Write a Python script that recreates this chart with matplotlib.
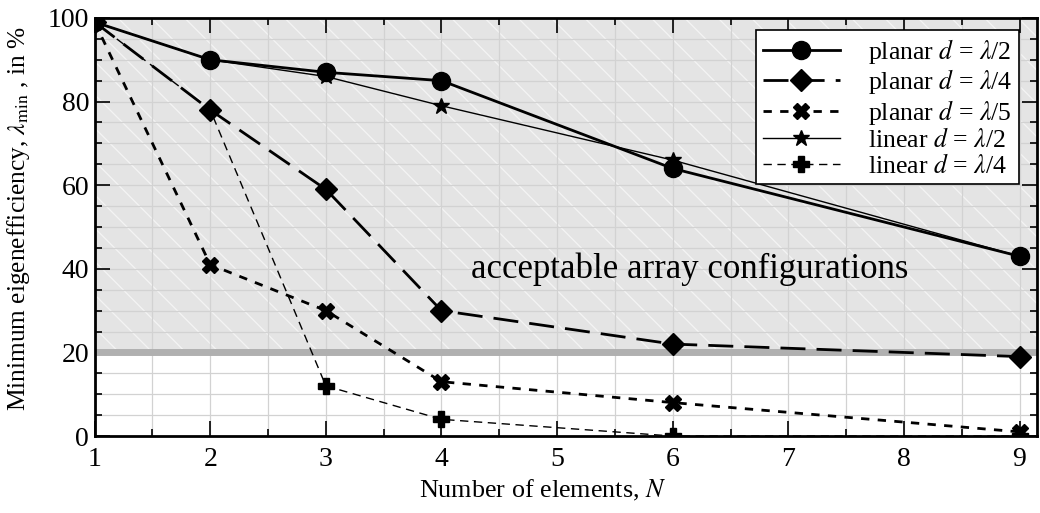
import matplotlib.pyplot as plt
import numpy as np

plt.rcParams['font.family'] = ['Liberation Serif', 'DejaVu Serif']
plt.rcParams['mathtext.fontset'] = 'stix'
plt.rcParams['hatch.linewidth'] = 0.9

# data
n_elem = [1, 2, 3, 4, 6, 9]
planar_half = [99, 90, 87, 85, 64, 43]
planar_quarter = [99, 78, 59, 30, 22, 19]
planar_fifth = [99, 41, 30, 13, 8, 1]
linear_half = [99, 90, 86, 79, 66, 43]
linear_quarter = [99, 78, 12, 4, 0, 0]
x_ticks = [1, 2, 3, 4, 5, 6, 7, 8, 9]
threshold = 20

fig = plt.figure(figsize=(10.4, 5.13), dpi=100)
ax = fig.add_axes([0.091, 0.150, 0.906, 0.815])

# acceptable region
ax.fill_between([0.5, 10], threshold, 100, facecolor='#e4e4e4', edgecolor='#f4f4f4',
                hatch='\\', linewidth=0, zorder=0.2)
ax.axhline(threshold, color='#b0b0b0', lw=5, zorder=0.8)

ax.plot(n_elem, planar_half, '-', color='black', lw=2, marker='o', ms=13,
        label=r'planar $d$ = $\lambda$/2', zorder=3)
ax.plot(n_elem, planar_quarter, color='black', lw=2, ls=(0, (9, 4)), marker='D', ms=11,
        label=r'planar $d$ = $\lambda$/4', zorder=3)
ax.plot(n_elem, planar_fifth, color='black', lw=2, ls=(0, (3, 3)), marker='X', ms=12,
        label=r'planar $d$ = $\lambda$/5', zorder=3)
ax.plot(n_elem, linear_half, '-', color='black', lw=1, marker='*', ms=12,
        label=r'linear $d$ = $\lambda$/2', zorder=3)
ax.plot(n_elem, linear_quarter, color='black', lw=1, ls=(0, (6, 4)), marker='P', ms=11,
        label=r'linear $d$ = $\lambda$/4', zorder=3)

ax.text(6.15, 40, 'acceptable array configurations', fontsize=25, ha='center', va='center')

ax.set_xlim(1, 9.15)
ax.set_ylim(0, 100)
ax.set_xticks(x_ticks)
ax.set_xticks(np.arange(1, 9.5, 0.5), minor=True)
ax.set_yticks([0, 20, 40, 60, 80, 100])
ax.set_yticks(np.arange(0, 101, 5), minor=True)
ax.tick_params(which='both', direction='in', top=True, right=True, labelsize=20, width=1.2)
ax.tick_params(which='major', length=11)
ax.tick_params(axis='x', which='major', pad=8)
ax.tick_params(axis='y', which='major', pad=4)
ax.tick_params(which='minor', length=5)
ax.set_axisbelow(True)
ax.grid(which='both', color='#d2d2d2', lw=0.9)
for s in ax.spines.values():
    s.set_linewidth(2)

ax.set_xlabel(r'Number of elements, $N$', fontsize=18.8)
ax.xaxis.set_label_coords(0.475, -0.10)
ax.set_ylabel(r'Minimum eigenefficiency, $\lambda_{\rm min}$ , in %', fontsize=18.3)
ax.yaxis.set_label_coords(-0.066, 0.52)

leg = ax.legend(loc='upper right', bbox_to_anchor=(0.981, 0.971), fontsize=18.5,
                fancybox=False, framealpha=1, edgecolor='black', handlelength=3.0,
                labelspacing=0.06, borderpad=0.25, handletextpad=1.1, borderaxespad=0)
leg.get_frame().set_linewidth(1.2)

fig.savefig('out.png', dpi=100)
